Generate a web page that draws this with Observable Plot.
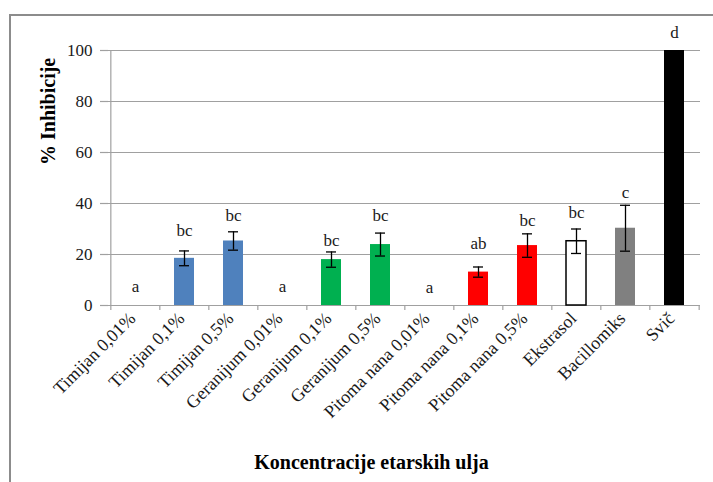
<!DOCTYPE html>
<html><head><meta charset="utf-8">
<script src="https://cdn.jsdelivr.net/npm/d3@7"></script>
<script src="https://cdn.jsdelivr.net/npm/@observablehq/plot@0.6"></script>
<style>
body{margin:0;background:#fff;}
#wrap{position:relative;width:713px;height:482px;overflow:hidden;background:#fff;}
#frame{position:absolute;left:9px;top:14px;width:720px;height:480px;border:2px solid #8c8c8c;box-sizing:border-box;}
#chart{position:absolute;left:0;top:0;}
</style></head><body>
<div id="wrap"><div id="frame"></div><div id="chart"></div></div>
<script>
const categories = ["Timijan 0,01%","Timijan 0,1%","Timijan 0,5%","Geranijum 0,01%","Geranijum 0,1%","Geranijum 0,5%","Pitoma nana 0,01%","Pitoma nana 0,1%","Pitoma nana 0,5%","Ekstrasol","Bacillomiks","Svič"];
const groups = ["Timijan","Timijan","Timijan","Geranijum","Geranijum","Geranijum","Pitoma nana","Pitoma nana","Pitoma nana","Ekstrasol","Bacillomiks","Svič"];
const values = [0, 18.5, 25.3, 0, 18, 23.9, 0, 13.1, 23.5, 25.2, 30.3, 100];
const errors = [0, 2.9, 3.6, 0, 3, 4.5, 0, 2, 4.6, 4.8, 9, 0];
const letters = ["a","bc","bc","a","bc","bc","a","ab","bc","bc","c","d"];
const letterY = [7.6, 29.4, 35.3, 7.6, 25.5, 35.3, 7.2, 24.2, 33.3, 36.4, 44.2, 107.2];
const yTicks = [0, 20, 40, 60, 80, 100];

const palette = {"Timijan":"#4F81BD","Geranijum":"#00B050","Pitoma nana":"#FF0000","Ekstrasol":"#FFFFFF","Bacillomiks":"#808080","Svič":"#000000"};

const rows = categories.map((c, i) => ({cat: c, group: groups[i], value: values[i], err: errors[i], letter: letters[i], ly: letterY[i]}));
const errRows = rows.filter(d => d.err > 0);

const W = 713, H = 482, mL = 108, mR = 13, mT = 50, mB = 177;
const step = (W - mL - mR) / categories.length;
const gray = "#a0a0a0";
const serif = "'Liberation Serif', 'Times New Roman', serif";

const chart = Plot.plot({
  width: W, height: H,
  marginLeft: mL, marginRight: mR, marginTop: mT, marginBottom: mB,
  style: {fontFamily: serif, fontSize: "17px", color: "#1a1a1a", background: "transparent"},
  x: {domain: categories, paddingInner: 0.6, paddingOuter: 0.3},
  y: {domain: [0, 100]},
  marks: [
    Plot.gridY(yTicks, {stroke: gray, strokeOpacity: 1, strokeWidth: 1.2}),
    Plot.axisY(yTicks, {tickSize: 8, stroke: gray, strokeWidth: 1.2, tickFormat: () => "", label: null}),
    Plot.axisY(yTicks, {tickSize: 0, tickPadding: 16, label: null, fontSize: 17, fontFamily: serif}),
    Plot.ruleY([0], {stroke: gray, strokeWidth: 1.2}),
    Plot.ruleX([categories[0]], {x: d => d, y1: 0, y2: 100, dx: -step / 2, stroke: gray, strokeWidth: 1.2}),
    Plot.ruleX(categories, {x: d => d, y1: 0, y2: -2, dx: -step / 2, stroke: gray, strokeWidth: 1.2}),
    Plot.ruleX([categories[categories.length - 1]], {x: d => d, y1: 0, y2: -2, dx: step / 2, stroke: gray, strokeWidth: 1.2}),
    Plot.barY(rows, {x: "cat", y: "value", fill: d => palette[d.group],
      stroke: d => d.group === "Ekstrasol" ? "#000" : "none", strokeWidth: 1.5}),
    Plot.ruleX(errRows, {x: "cat", y1: d => d.value - d.err, y2: d => d.value + d.err, stroke: "#000", strokeWidth: 1.3}),
    Plot.tickY(errRows, {x: "cat", y: d => d.value - d.err, insetLeft: 5, insetRight: 5, stroke: "#000", strokeWidth: 1.3}),
    Plot.tickY(errRows, {x: "cat", y: d => d.value + d.err, insetLeft: 5, insetRight: 5, stroke: "#000", strokeWidth: 1.3}),
    Plot.text(rows, {x: "cat", y: "ly", text: "letter", fontSize: 17, fontFamily: serif, fill: "#1a1a1a"}),
    Plot.axisX({tickSize: 0, tickRotate: -45, tickPadding: 10, dx: -3, label: null, fontSize: 18, fontFamily: serif}),
    Plot.text(["% Inhibicije"], {frameAnchor: "left", rotate: -90, dx: -60, dy: -13, fontSize: 20, fontWeight: "bold", fontFamily: serif, fill: "#000"}),
    Plot.text(["Koncentracije etarskih ulja"], {frameAnchor: "bottom", dx: -33, dy: 163, fontSize: 20, fontWeight: "bold", fontFamily: serif, fill: "#000"})
  ]
});
document.getElementById("chart").appendChild(chart);
</script>
</body></html>
